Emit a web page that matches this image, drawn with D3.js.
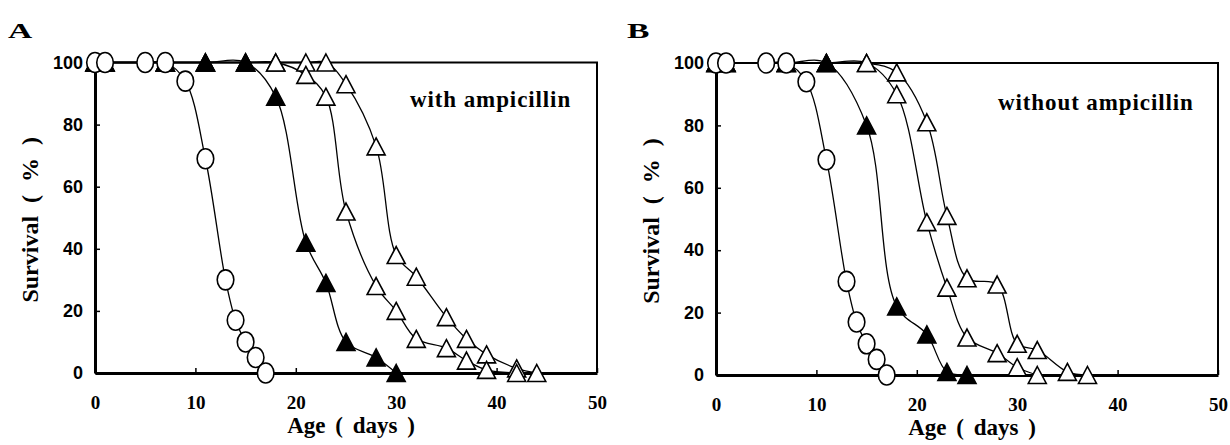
<!DOCTYPE html>
<html>
<head>
<meta charset="utf-8">
<script src="https://cdn.jsdelivr.net/npm/d3@7"></script>
<style>
  body { margin: 0; background: #fff; }
  svg { display: block; }
</style>
</head>
<body>
<div id="chart"></div>
<script>
// survival (%), per series and panel
var circleDays = [0, 1, 5, 7, 9, 11, 13, 14, 15, 16, 17];
var circleA = [100, 100, 100, 100, 94, 69, 30, 17, 10, 5, 0];
var circleB = [100, 100, 100, 100, 94, 69, 30, 17, 10, 5, 0];

var filledDaysA = [0, 1, 7, 11, 15, 18, 21, 23, 25, 28, 30];
var filledA = [100, 100, 100, 100, 100, 89, 42, 29, 10, 5, 0];
var filledDaysB = [0, 1, 7, 11, 15, 18, 21, 23, 25];
var filledB = [100, 100, 100, 100, 80, 22, 13, 1, 0];

var open1DaysA = [0, 1, 7, 11, 15, 18, 21, 23, 25, 28, 30, 32, 35, 37, 39, 42];
var open1A = [100, 100, 100, 100, 100, 100, 96, 89, 52, 28, 20, 11, 8, 4, 1, 0];
var open2DaysA = [0, 1, 7, 11, 15, 18, 21, 23, 25, 28, 30, 32, 35, 37, 39, 42, 44];
var open2A = [100, 100, 100, 100, 100, 100, 100, 100, 93, 73, 38, 31, 18, 11, 6, 1.5, 0];

var open1DaysB = [0, 1, 7, 11, 15, 18, 21, 23, 25, 28, 30, 32];
var open1B = [100, 100, 100, 100, 100, 90, 49, 28, 12, 7, 2.5, 0];
var open2DaysB = [0, 1, 7, 11, 15, 18, 21, 23, 25, 28, 30, 32, 35, 37];
var open2B = [100, 100, 100, 100, 100, 97, 81, 51, 31, 29, 10, 8, 1, 0];

var xTicks = [0, 10, 20, 30, 40, 50];
var yTicks = [0, 20, 40, 60, 80, 100];

var serif = "'Liberation Serif', 'Times New Roman', serif";
var sans = "'Liberation Sans', Arial, sans-serif";

function zip(days, vals) {
  return days.map(function(d, i) { return { x: d, y: vals[i] }; });
}

// triangle centred on its bounding box, like the spreadsheet markers
function triPath(w, h) {
  return "M0," + (-h / 2) + "L" + (w / 2) + "," + (h / 2) + "L" + (-w / 2) + "," + (h / 2) + "Z";
}

var svg = d3.select("#chart").append("svg")
    .attr("width", 1230)
    .attr("height", 445);

svg.append("rect")
    .attr("width", 1230)
    .attr("height", 445)
    .style("fill", "#fff");

function drawPanel(options) {
  var x = d3.scaleLinear().domain([0, 50]).range(options.xRange);
  var y = d3.scaleLinear().domain([0, 100]).range(options.yRange);
  var g = svg.append("g");

  // frame top / right
  g.append("path")
      .attr("d", "M" + x(0) + "," + y(100) + "H" + x(50) + "V" + y(0))
      .style("fill", "none")
      .style("stroke", "#000")
      .style("stroke-width", 2);

  var yAxis = g.append("g")
      .attr("transform", "translate(" + x(0) + ",0)")
      .call(d3.axisLeft(y).tickValues(yTicks).tickSizeInner(-5).tickSizeOuter(0).tickPadding(12));

  yAxis.select(".domain").style("stroke-width", 3);
  yAxis.selectAll(".tick line").style("stroke-width", 1.5);
  yAxis.selectAll("text")
      .style("font-family", sans)
      .style("font-weight", "bold")
      .style("font-size", "18px")
      .style("fill", "#000");

  var xAxis = g.append("g")
      .attr("transform", "translate(0," + y(0) + ")")
      .call(d3.axisBottom(x).tickValues(xTicks).tickSizeInner(-5).tickSizeOuter(0).tickPadding(23));

  xAxis.select(".domain").style("stroke-width", 3);
  xAxis.selectAll(".tick line").style("stroke-width", 1.5);
  xAxis.selectAll("text")
      .style("font-family", serif)
      .style("font-weight", "bold")
      .style("font-size", "19px")
      .style("fill", "#000");

  var line = d3.line()
      .x(function(d) { return x(d.x); })
      .y(function(d) { return y(d.y); })
      .curve(d3.curveCatmullRom.alpha(0.5));

  var series = options.series;
  series.forEach(function(s) {
    g.append("path")
        .attr("d", line(s.data))
        .style("fill", "none")
        .style("stroke", "#000")
        .style("stroke-width", 1.3);
  });

  series.forEach(function(s) {
    var pts = g.selectAll(null)
        .data(s.data)
        .enter();

    if (s.shape === "circle") {
      pts.append("ellipse")
          .attr("cx", function(d) { return x(d.x); })
          .attr("cy", function(d) { return y(d.y); })
          .attr("rx", 8.3)
          .attr("ry", 10)
          .style("fill", "#fff")
          .style("stroke", "#000")
          .style("stroke-width", 1.6);
    } else {
      pts.append("path")
          .attr("d", triPath(18, 17))
          .attr("transform", function(d) { return "translate(" + x(d.x) + "," + y(d.y) + ")"; })
          .style("fill", s.shape === "filled" ? "#000" : "#fff")
          .style("stroke", "#000")
          .style("stroke-width", 1.6)
          .style("stroke-linejoin", "miter");
    }
  });

  // labels
  g.append("text")
      .attr("transform", "translate(" + options.letterPos[0] + "," + options.letterPos[1] + ") scale(1.6,1)")
      .style("font-family", serif)
      .style("font-weight", "bold")
      .style("font-size", "21px")
      .text(options.letter);

  g.append("text")
      .attr("x", options.notePos[0])
      .attr("y", options.notePos[1])
      .style("font-family", serif)
      .style("font-weight", "bold")
      .style("font-size", "23px")
      .style("letter-spacing", "0.9px")
      .text(options.note);

  g.append("text")
      .attr("transform", "translate(" + (x(0) - 57) + "," + ((y(0) + y(100)) / 2 + 2) + ") rotate(-90)")
      .attr("text-anchor", "middle")
      .style("font-family", serif)
      .style("font-weight", "bold")
      .style("font-size", "24px")
      .style("word-spacing", "7px")
      .text("Survival ( % )");

  g.append("text")
      .attr("x", (x(0) + x(50)) / 2 + 5)
      .attr("y", y(0) + 60)
      .attr("text-anchor", "middle")
      .style("font-family", serif)
      .style("font-weight", "bold")
      .style("font-size", "23px")
      .style("word-spacing", "4px")
      .text("Age ( days )");

  return g;
}

drawPanel({
  xRange: [95, 597],
  yRange: [373, 62.5],
  letter: "A",
  letterPos: [8, 38],
  note: "with ampicillin",
  notePos: [410, 107],
  series: [
    { shape: "open", data: zip(open2DaysA, open2A) },
    { shape: "open", data: zip(open1DaysA, open1A) },
    { shape: "filled", data: zip(filledDaysA, filledA) },
    { shape: "circle", data: zip(circleDays, circleA) }
  ]
});

drawPanel({
  xRange: [716, 1218],
  yRange: [375, 63],
  letter: "B",
  letterPos: [627, 38],
  note: "without ampicillin",
  notePos: [998, 110],
  series: [
    { shape: "open", data: zip(open2DaysB, open2B) },
    { shape: "open", data: zip(open1DaysB, open1B) },
    { shape: "filled", data: zip(filledDaysB, filledB) },
    { shape: "circle", data: zip(circleDays, circleB) }
  ]
});
</script>
</body>
</html>
